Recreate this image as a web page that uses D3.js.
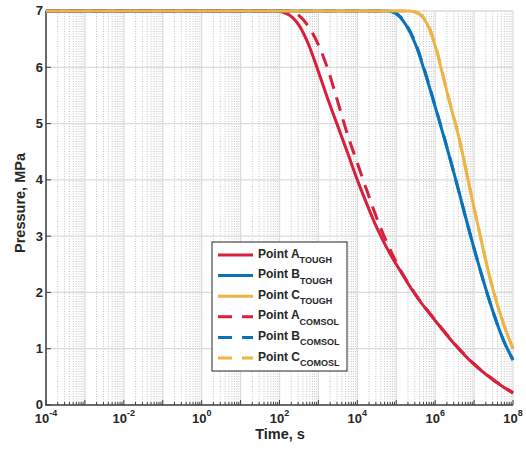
<!DOCTYPE html>
<html>
<head>
<meta charset="utf-8">
<script src="https://cdn.jsdelivr.net/npm/d3@7"></script>
<style>
  html, body { margin: 0; padding: 0; background: #fff; }
  svg { display: block; }
  text { font-family: "Liberation Sans", Arial, Helvetica, sans-serif; font-weight: bold; fill: #262626; }
</style>
</head>
<body>
<svg id="chart" width="526" height="454"></svg>
<script>
// ---- data (time in seconds, pressure in MPa) ----
const timeA_TOUGH  = [1e-4, 79.4, 158, 316, 562, 1000, 1780, 3160, 5620, 10000, 17800, 31600, 56200, 1e5, 316000, 1e6, 3.16e6, 1e7, 3.16e7, 1e8];
const pressA_TOUGH = [7, 7.0, 6.95, 6.75, 6.40, 5.92, 5.42, 4.95, 4.48, 4.0, 3.56, 3.15, 2.80, 2.50, 1.95, 1.50, 1.08, 0.72, 0.44, 0.21];

const timeB_TOUGH  = [1e-4, 63100, 1e5, 178000, 316000, 562000, 1e6, 1.78e6, 3.16e6, 5.62e6, 1e7, 1.78e7, 3.16e7, 5.62e7, 1e8];
const pressB_TOUGH = [7, 7.0, 6.95, 6.75, 6.40, 5.88, 5.30, 4.70, 4.08, 3.42, 2.78, 2.18, 1.63, 1.16, 0.80];

const timeC_TOUGH  = [1e-4, 224000, 398000, 631000, 1e6, 1.58e6, 2.51e6, 3.98e6, 6.31e6, 1e7, 1.58e7, 2.51e7, 3.98e7, 6.31e7, 1e8];
const pressC_TOUGH = [7, 7.0, 6.94, 6.76, 6.38, 5.85, 5.30, 4.78, 4.15, 3.50, 2.88, 2.28, 1.78, 1.36, 1.0];

const timeA_COMSOL  = [1e-4, 158, 316, 562, 1000, 1780, 3160, 5620, 10000, 17800, 31600, 56200, 1e5, 316000, 1e6, 3.16e6, 1e7, 3.16e7, 1e8];
const pressA_COMSOL = [7, 7.0, 6.92, 6.72, 6.40, 5.95, 5.38, 4.80, 4.30, 3.80, 3.32, 2.90, 2.54, 1.96, 1.51, 1.09, 0.73, 0.45, 0.22];

const timeB_COMSOL  = [1e-4, 63100, 1e5, 178000, 316000, 562000, 1e6, 1.78e6, 3.16e6, 5.62e6, 1e7, 1.78e7, 3.16e7, 5.62e7, 1e8];
const pressB_COMSOL = [7, 7.0, 6.96, 6.77, 6.42, 5.90, 5.31, 4.71, 4.08, 3.42, 2.78, 2.18, 1.63, 1.16, 0.80];

const timeC_COMSOL  = [1e-4, 224000, 398000, 631000, 1e6, 1.58e6, 2.51e6, 3.98e6, 6.31e6, 1e7, 1.58e7, 2.51e7, 3.98e7, 6.31e7, 1e8];
const pressC_COMSOL = [7, 7.0, 6.95, 6.78, 6.41, 5.87, 5.31, 4.79, 4.15, 3.50, 2.88, 2.28, 1.78, 1.36, 1.0];

const xTickExponents = [-4, -2, 0, 2, 4, 6, 8];
const yTicks = [0, 1, 2, 3, 4, 5, 6, 7];
const legendNames = ["A", "B", "C", "A", "B", "C"];
const legendSubs  = ["TOUGH", "TOUGH", "TOUGH", "COMSOL", "COMSOL", "COMOSL"];

const colors = { A: "#D6203C", B: "#0A72BA", C: "#EDB446" };

const series = [
  { t: timeA_TOUGH,  p: pressA_TOUGH,  color: colors.A, dashed: false },
  { t: timeB_TOUGH,  p: pressB_TOUGH,  color: colors.B, dashed: false },
  { t: timeC_TOUGH,  p: pressC_TOUGH,  color: colors.C, dashed: false },
  { t: timeA_COMSOL, p: pressA_COMSOL, color: colors.A, dashed: true },
  { t: timeB_COMSOL, p: pressB_COMSOL, color: colors.B, dashed: true },
  { t: timeC_COMSOL, p: pressC_COMSOL, color: colors.C, dashed: true }
];

// ---- layout ----
const L = 46, R = 513, T = 11, B = 405;
const svg = d3.select("#chart");
const x = d3.scaleLog().domain([1e-4, 1e8]).range([L, R]);
const y = d3.scaleLinear().domain([0, 7]).range([B, T]);

// grid: minor vertical (dotted)
const minorVals = [];
for (let e = -4; e < 8; e++) for (let m = 2; m <= 9; m++) minorVals.push(m * Math.pow(10, e));
const grid = svg.append("g");
grid.selectAll("line.minor").data(minorVals).enter().append("line")
  .attr("x1", d => x(d)).attr("x2", d => x(d)).attr("y1", T).attr("y2", B)
  .attr("stroke", "#bcbcbc").attr("stroke-width", 0.9).attr("stroke-dasharray", "1,1.5");
// major vertical
const majorVals = d3.range(-4, 9).map(e => Math.pow(10, e));
grid.selectAll("line.major").data(majorVals).enter().append("line")
  .attr("x1", d => x(d)).attr("x2", d => x(d)).attr("y1", T).attr("y2", B)
  .attr("stroke", "#dcdcdc").attr("stroke-width", 1.3);
// horizontal
grid.selectAll("line.h").data(yTicks).enter().append("line")
  .attr("x1", L).attr("x2", R).attr("y1", d => y(d)).attr("y2", d => y(d))
  .attr("stroke", "#dcdcdc").attr("stroke-width", 1.3);

// axes lines + ticks (inside)
const axisG = svg.append("g");
axisG.append("line").attr("x1", L).attr("x2", L).attr("y1", T - 0.5).attr("y2", B + 0.5)
  .attr("stroke", "#404040").attr("stroke-width", 1.5);
axisG.append("line").attr("x1", L - 0.5).attr("x2", R).attr("y1", B).attr("y2", B)
  .attr("stroke", "#404040").attr("stroke-width", 1.5);
axisG.selectAll("line.xmin").data(minorVals).enter().append("line")
  .attr("x1", d => x(d)).attr("x2", d => x(d)).attr("y1", B).attr("y2", B - 3)
  .attr("stroke", "#404040").attr("stroke-width", 1);
axisG.selectAll("line.xmaj").data(majorVals).enter().append("line")
  .attr("x1", d => x(d)).attr("x2", d => x(d)).attr("y1", B).attr("y2", B - 5)
  .attr("stroke", "#404040").attr("stroke-width", 1);
axisG.selectAll("line.ymaj").data(yTicks).enter().append("line")
  .attr("x1", L).attr("x2", L + 5).attr("y1", d => y(d)).attr("y2", d => y(d))
  .attr("stroke", "#404040").attr("stroke-width", 1);

// tick labels
axisG.selectAll("text.yl").data(yTicks).enter().append("text")
  .attr("x", L - 3).attr("y", d => y(d) + 4.4)
  .attr("text-anchor", "end").attr("font-size", 13).text(d => d);

const xl = axisG.selectAll("text.xl").data(xTickExponents).enter().append("text")
  .attr("x", d => x(Math.pow(10, d))).attr("y", 423)
  .attr("text-anchor", "middle").attr("font-size", 13);
xl.append("tspan").text("10");
xl.append("tspan").attr("font-size", 9).attr("dy", -7).text(d => d);

// axis titles
svg.append("text").attr("x", 280).attr("y", 439).attr("text-anchor", "middle")
  .attr("font-size", 14.5).text("Time, s");
svg.append("text").attr("transform", "translate(25,203) rotate(-90)")
  .attr("text-anchor", "middle").attr("font-size", 14.5).text("Pressure, MPa");

// lines
const lineGen = d3.line().x(d => x(d[0])).y(d => y(d[1])).curve(d3.curveMonotoneX);
const linesG = svg.append("g");
series.forEach(s => {
  const pts = s.t.map((t, i) => [t, s.p[i]]);
  linesG.append("path").datum(pts).attr("d", lineGen)
    .attr("fill", "none").attr("stroke", s.color).attr("stroke-width", 3)
    .attr("stroke-linejoin", "round")
    .attr("stroke-dasharray", s.dashed ? "14,9" : null);
});

// legend
const lg = svg.append("g");
const lx = 212, ly = 242, lw = 135, lh = 129;
lg.append("rect").attr("x", lx).attr("y", ly).attr("width", lw).attr("height", lh)
  .attr("fill", "#fff").attr("stroke", "#262626").attr("stroke-width", 1);
series.forEach((s, i) => {
  const ry = 255 + i * 20.6;
  lg.append("line").attr("x1", 218).attr("x2", 253).attr("y1", ry).attr("y2", ry)
    .attr("stroke", s.color).attr("stroke-width", 3)
    .attr("stroke-dasharray", s.dashed ? "14,10" : null);
  const t = lg.append("text").attr("x", 258).attr("y", ry + 2.5).attr("font-size", 12);
  t.append("tspan").text("Point " + legendNames[i]);
  t.append("tspan").attr("font-size", 9).attr("dy", 5.5).text(legendSubs[i]);
});
</script>
</body>
</html>
